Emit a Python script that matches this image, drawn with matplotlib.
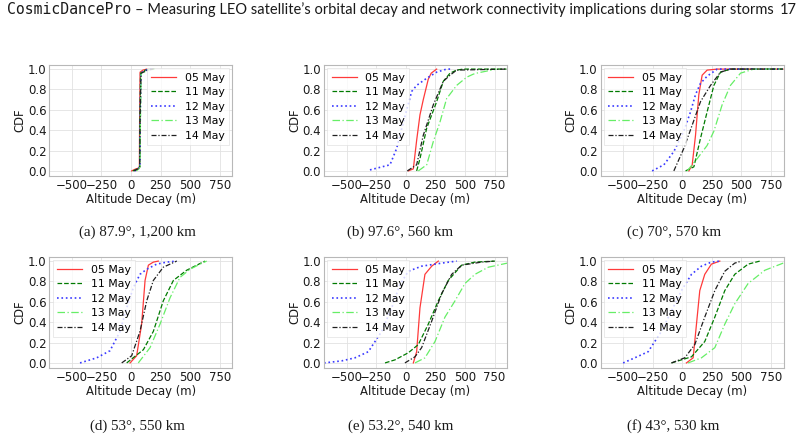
import matplotlib
matplotlib.use("Agg")
import matplotlib.pyplot as plt

# dates / styles of the five curves
dates = ["05 May", "11 May", "12 May", "13 May", "14 May"]
colors = ["#ff3a3a", "#007a00", "#3a3aff", "#66ee66", "#202020"]
styles = ["-", "--", ":", (0, (6, 2, 1, 2)), (0, (4, 1.5, 1, 1.5))]

captions = ["(a) 87.9°, 1,200 km", "(b) 97.6°, 560 km", "(c) 70°, 570 km",
            "(d) 53°, 550 km", "(e) 53.2°, 540 km", "(f) 43°, 530 km"]

x_ticks = [-500, -250, 0, 250, 500, 750]
y_ticks = [0.0, 0.2, 0.4, 0.6, 0.8, 1.0]

# altitude decay (m) read at CDF levels, one dict per panel
decay_a = {
    "05 May": ([5, 40, 70, 72, 76, 100, 132], [0, 0.02, 0.03, 0.5, 0.97, 0.99, 1.0]),
    "11 May": ([15, 55, 72, 75, 80, 120, 160], [0, 0.02, 0.04, 0.5, 0.96, 0.99, 1.0]),
    "12 May": ([30, 60, 74, 77, 82, 130, 175], [0, 0.02, 0.04, 0.5, 0.96, 0.99, 1.0]),
    "13 May": ([45, 65, 76, 79, 85, 150, 200], [0, 0.02, 0.04, 0.5, 0.96, 0.99, 1.0]),
    "14 May": ([25, 58, 73, 76, 84, 140, 190], [0, 0.02, 0.04, 0.5, 0.96, 0.99, 1.0]),
}
decay_b = {
    "05 May": ([22, 64, 92, 120, 148, 190, 215, 261], [0.0, 0.02, 0.3, 0.55, 0.7, 0.9, 0.96, 1.0]),
    "11 May": ([92, 120, 177, 261, 317, 374, 430, 486, 850], [0.0, 0.12, 0.42, 0.68, 0.88, 0.96, 0.99, 1.0, 1.0]),
    "12 May": ([-302, -133, -77, -20, 50, 92, 177, 261, 345, 380], [0.01, 0.06, 0.22, 0.48, 0.78, 0.84, 0.91, 0.97, 1.0, 1.0]),
    "13 May": ([106, 177, 233, 289, 345, 430, 514, 570, 598, 767], [0.0, 0.06, 0.29, 0.48, 0.71, 0.84, 0.92, 0.95, 0.96, 1.0]),
    "14 May": ([13, 92, 148, 233, 317, 374, 430, 852], [0.0, 0.06, 0.35, 0.65, 0.88, 0.94, 0.99, 1.0]),
}
decay_c = {
    "05 May": ([56, 84, 112, 140, 168, 210, 295, 850], [0.0, 0.06, 0.35, 0.75, 0.94, 0.99, 1.0, 1.0]),
    "11 May": ([28, 98, 154, 210, 267, 323, 407, 850], [0.0, 0.04, 0.32, 0.58, 0.84, 0.97, 1.0, 1.0]),
    "12 May": ([-254, -155, -71, 13, 70, 112, 154, 210, 295, 850], [0.0, 0.06, 0.19, 0.39, 0.58, 0.75, 0.86, 0.93, 1.0, 1.0]),
    "13 May": ([42, 126, 210, 267, 337, 407, 492, 604, 850], [0.0, 0.12, 0.25, 0.39, 0.65, 0.84, 0.96, 1.0, 1.0]),
    "14 May": ([-71, 13, 84, 154, 239, 323, 407, 850], [0.0, 0.22, 0.45, 0.68, 0.84, 0.97, 1.0, 1.0]),
}
decay_d = {
    "05 May": ([-9, 47, 89, 118, 146, 188, 230], [0.0, 0.07, 0.38, 0.81, 0.96, 0.99, 1.0]),
    "11 May": ([-37, 104, 188, 272, 357, 469, 554, 624], [0.0, 0.13, 0.31, 0.61, 0.81, 0.91, 0.96, 1.0]),
    "12 May": ([-431, -290, -178, -93, -37, 19, 75, 132, 216, 300, 385], [0.0, 0.05, 0.12, 0.31, 0.54, 0.74, 0.87, 0.92, 0.97, 0.99, 1.0]),
    "13 May": ([61, 160, 244, 329, 413, 498, 582, 638], [0.0, 0.15, 0.38, 0.64, 0.84, 0.92, 0.97, 1.0]),
    "14 May": ([-79, 5, 75, 132, 188, 272, 385], [0.0, 0.07, 0.31, 0.61, 0.81, 0.94, 1.0]),
}
decay_e = {
    "05 May": ([64, 92, 120, 162, 219, 275], [0.0, 0.11, 0.54, 0.87, 0.95, 1.0]),
    "11 May": ([-175, -91, 22, 106, 190, 275, 359, 472, 584, 753], [0.0, 0.03, 0.1, 0.18, 0.38, 0.61, 0.81, 0.96, 0.99, 1.0]),
    "12 May": ([-690, -541, -429, -316, -203, -119, -49, 22, 134, 303, 430], [0.0, 0.02, 0.05, 0.11, 0.31, 0.54, 0.77, 0.9, 0.95, 0.98, 1.0]),
    "13 May": ([78, 162, 247, 331, 416, 500, 584, 697, 857], [0.0, 0.05, 0.21, 0.45, 0.61, 0.78, 0.87, 0.94, 0.98]),
    "14 May": ([-7, 78, 134, 219, 303, 388, 472, 641, 753], [0.0, 0.06, 0.15, 0.41, 0.68, 0.87, 0.96, 0.99, 1.0]),
}
decay_f = {
    "05 May": ([35, 92, 120, 148, 190, 246, 317], [0.0, 0.05, 0.38, 0.71, 0.87, 0.97, 1.0]),
    "11 May": ([-91, 78, 190, 275, 359, 443, 556, 655], [0.0, 0.06, 0.21, 0.45, 0.71, 0.87, 0.97, 1.0]),
    "12 May": ([-499, -401, -288, -176, -91, -7, 78, 162, 246, 317], [0.0, 0.05, 0.11, 0.31, 0.51, 0.71, 0.87, 0.95, 0.99, 1.0]),
    "13 May": ([49, 162, 275, 359, 443, 556, 697, 852], [0.0, 0.05, 0.15, 0.38, 0.58, 0.78, 0.91, 0.98]),
    "14 May": ([-91, 21, 106, 190, 275, 359, 443, 500], [0.0, 0.05, 0.18, 0.45, 0.71, 0.9, 0.98, 1.0]),
}
panels = [decay_a, decay_b, decay_c, decay_d, decay_e, decay_f]
legend_loc = ["upper right", "upper left", "upper left",
              "upper left", "upper left", "upper left"]

fig = plt.figure(figsize=(8.01, 4.41), dpi=100)

lefts = [0.0616, 0.4045, 0.7497]
bottoms = [0.6009, 0.1655]
cap_x = [0.171, 0.5, 0.841]
cap_y = [0.474, 0.034]

for i, dados in enumerate(panels):
    row, col = divmod(i, 3)
    ax = fig.add_axes([lefts[col], bottoms[row], 0.2285, 0.2517])
    for k, nome in enumerate(dates):
        xs, cdf = dados[nome]
        ax.plot(xs, cdf, color=colors[k], linestyle=styles[k],
                linewidth=1.2 if k == 2 else 0.9, label=nome)
    ax.set_xlim(-690, 855)
    ax.set_ylim(-0.05, 1.04)
    ax.set_xticks(x_ticks)
    ax.set_yticks(y_ticks)
    ax.set_xticklabels([str(t).replace("-", "\u2212") for t in x_ticks])
    ax.set_yticklabels([f"{t:.1f}" for t in y_ticks])
    ax.tick_params(labelsize=8.5, length=0, pad=2, colors="#1a1a1a")
    ax.grid(True, color="#e2e2e2", linewidth=0.6)
    for s in ax.spines.values():
        s.set_color("#b8b8b8")
        s.set_linewidth(0.8)
    ax.set_xlabel("Altitude Decay (m)", fontsize=8.4, labelpad=1, color="#1a1a1a")
    ax.set_ylabel("CDF", fontsize=8.4, labelpad=1, color="#1a1a1a")
    leg = ax.legend(loc=legend_loc[i], fontsize=7.8, frameon=True,
                    borderaxespad=0.3, labelspacing=0.42, handlelength=2.3,
                    fancybox=False)
    leg.get_frame().set_edgecolor("#e0e0e0")
    leg.get_frame().set_linewidth(0.6)
    fig.text(cap_x[col], cap_y[row], captions[i], ha="center", va="center",
             fontsize=10.8, family="Liberation Serif", color="#1a1a1a")

# running header, sizes fitted to the widths seen in the page
W = fig.bbox.width
t1 = fig.text(7 / W, 0.978, "CosmicDancePro", fontsize=10,
              family="DejaVu Sans Mono", va="center", color="#1a1a1a")
t2 = fig.text(0.2, 0.978,
              "\u2013 Measuring LEO satellite\u2019s orbital decay and network connectivity implications during solar storms",
              fontsize=10, family="Lato", va="center", color="#1a1a1a")
fig.canvas.draw()
t1.set_fontsize(10 * 125 / t1.get_window_extent().width)
t2.set_fontsize(10 * 636 / t2.get_window_extent().width)
fig.canvas.draw()
t2.set_x((t1.get_window_extent().x1 + 4) / W)
fig.text(0.995, 0.978, "17", fontsize=t2.get_fontsize(), family="Lato",
         va="center", ha="right", color="#1a1a1a")

fig.savefig("out.png", dpi=100)
